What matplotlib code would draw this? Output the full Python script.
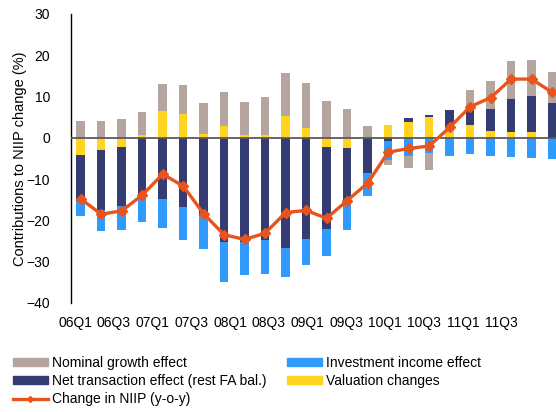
import numpy as np
import matplotlib
matplotlib.use('Agg')
import matplotlib.pyplot as plt
from matplotlib.patches import Patch
from matplotlib.lines import Line2D

plt.rcParams['font.family'] = ['Liberation Sans', 'DejaVu Sans']

# quarters 06Q1 .. 11Q4
quarters = [f'{y:02d}Q{q}' for y in range(6, 12) for q in range(1, 5)]
tick_labels = quarters[::2]

# contributions (pp)
valuation = [-4.2, -3.0, -2.2, 0.6, 6.5, 5.7, 0.9, 2.8,
             0.6, 0.6, 5.2, 2.3, -2.3, -2.4, 0.0, 3.1,
             3.9, 4.9, 2.3, 3.0, 1.6, 1.3, 1.4, 0.0]
net_trans = [-11.1, -14.5, -14.3, -14.3, -14.8, -16.8, -18.9, -25.2,
             -25.2, -24.8, -26.8, -24.5, -19.8, -13.6, -8.5, -0.7,
             0.8, 0.5, 4.4, 4.3, 5.3, 8.0, 8.8, 8.3]
inv_income = [-3.7, -5.1, -5.8, -6.1, -7.0, -8.0, -8.0, -9.6,
              -8.1, -8.3, -7.0, -6.4, -6.5, -6.3, -5.5, -4.6,
              -4.4, -3.8, -4.3, -4.0, -4.3, -4.6, -4.8, -5.1]
nom_growth = [4.0, 4.0, 4.5, 5.7, 6.5, 7.1, 7.5, 8.2,
              8.0, 9.2, 10.4, 11.0, 9.0, 7.0, 2.8, -1.3,
              -2.9, -3.9, 0.0, 4.2, 6.9, 9.2, 8.6, 7.6]
niip_change = [-14.8, -18.5, -17.7, -13.9, -8.8, -11.7, -18.4, -23.5,
               -24.6, -23.1, -18.1, -17.6, -19.5, -15.2, -11.0, -3.5,
               -2.6, -2.0, 2.5, 7.5, 9.7, 14.2, 14.2, 11.0]

c_grey = '#b4a69e'
c_dark = '#353b73'
c_blue = '#309bfc'
c_yel = '#ffd420'
c_line = '#e8541c'

fig = plt.figure(figsize=(5.56, 4.12), dpi=100)
ax = fig.add_axes([71/556, 1-303/412, (556-71)/556, (303-13.8)/412])

x = np.arange(len(quarters))
pos_base = np.zeros(len(x))
neg_base = np.zeros(len(x))
series = [(valuation, c_yel), (net_trans, c_dark), (inv_income, c_blue), (nom_growth, c_grey)]
for vals, col in series:
    v = np.array(vals)
    base = np.where(v >= 0, pos_base, neg_base)
    ax.bar(x, v, 0.41, bottom=base, color=col, zorder=2)
    pos_base += np.clip(v, 0, None)
    neg_base += np.clip(v, None, 0)

ax.axhline(0, color='#5a5a5a', lw=1.3, zorder=3)
ax.plot(x, niip_change, color=c_line, lw=2.4, marker='D', ms=5.5, zorder=4)

ax.set_xlim(-0.473, 23.19)
ax.set_ylim(-40, 30)
ax.set_yticks(range(-40, 31, 10))
ax.tick_params(axis='y', length=0, pad=15, labelsize=10)
# labels sit slightly compressed relative to the bars in the original
ax.set_xticks(np.linspace(-0.28, 20.54, len(tick_labels)))
ax.set_xticklabels(tick_labels)
ax.tick_params(axis='x', length=0, pad=9, labelsize=10)
for s in ['top', 'right', 'bottom']:
    ax.spines[s].set_visible(False)
ax.spines['left'].set_linewidth(1.0)
ax.set_ylabel('Contributions to NIIP change (%)', fontsize=10.5)
ax.yaxis.set_label_coords(-0.09, 0.5)

handles = [Patch(color=c_grey), Patch(color=c_dark),
           Line2D([], [], color=c_line, lw=2.4, marker='D', ms=3),
           Patch(color=c_blue), Patch(color=c_yel)]
labels = ['Nominal growth effect', 'Net transaction effect (rest FA bal.)',
          'Change in NIIP (y-o-y)', 'Investment income effect', 'Valuation changes']
fig.legend(handles, labels, ncol=2, loc='upper left', bbox_to_anchor=(13/556, 1-356/412),
           frameon=False, fontsize=10, borderpad=0, borderaxespad=0,
           handlelength=2.5, handleheight=0.5, handletextpad=0.3,
           labelspacing=0.3, columnspacing=1.5)

fig.savefig('out.png', dpi=100)
